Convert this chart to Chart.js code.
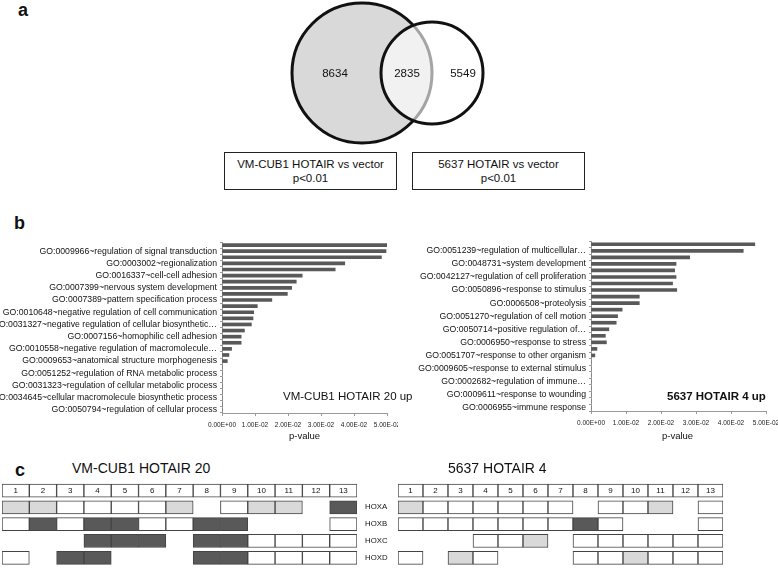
<!DOCTYPE html>
<html>
<head>
<meta charset="utf-8">
<script src="https://cdn.jsdelivr.net/npm/chart.js@4.4.1/dist/chart.umd.min.js"></script>
<style>
  body { margin: 0; background: #fff; font-family: "Liberation Sans", Arial, sans-serif; color: #111; }
  #page { position: relative; width: 778px; height: 568px; overflow: hidden; }
  canvas, .txt, .box { position: absolute; }
  .panel { font-weight: bold; font-size: 18px; }
  .box { box-sizing: border-box; border: 1.5px solid #222; width: 173px; height: 38px; top: 152px;
         font-size: 11.5px; line-height: 14px; text-align: center; padding-top: 4px; }
</style>
</head>
<body>
<div id="page">
  <div class="txt panel" style="left:18px; top:0px;">a</div>
  <div class="txt panel" style="left:14px; top:213px;">b</div>
  <div class="txt panel" style="left:15px; top:460px;">c</div>

  <canvas id="venn" width="220" height="150" style="left:280px; top:0px;"></canvas>
  <div class="box" style="left:224px;">VM-CUB1 HOTAIR vs vector<br>p&lt;0.01</div>
  <div class="box" style="left:412px;">5637 HOTAIR vs vector<br>p&lt;0.01</div>

  <canvas id="goLeft" width="398" height="212" style="left:0px; top:236px;"></canvas>
  <canvas id="goRight" width="383" height="212" style="left:395px; top:236px;"></canvas>
  <div class="txt" style="left:283px; top:390px; font-size:11.5px;">VM-CUB1 HOTAIR 20 up</div>
  <div class="txt" style="left:667px; top:390px; font-size:11.5px; font-weight:bold;">5637 HOTAIR 4 up</div>
  <div class="txt" style="left:289px; top:430px; font-size:9.5px;">p-value</div>
  <div class="txt" style="left:662px; top:430px; font-size:9.5px;">p-value</div>

  <div class="txt" style="left:72px; top:460px; font-size:14px;">VM-CUB1 HOTAIR 20</div>
  <div class="txt" style="left:448px; top:460px; font-size:14px;">5637 HOTAIR 4</div>
  <canvas id="hoxLeft" width="392" height="88" style="left:0px; top:480px;"></canvas>
  <canvas id="hoxRight" width="383" height="88" style="left:395px; top:480px;"></canvas>
</div>

<script>
// panel a: gene counts
const vennCounts = ["8634", "2835", "5549"];

// panel b: GO terms (every second bar is labelled) and p-values
const vmTerms = [
  "GO:0009966~regulation of signal transduction",
  "GO:0003002~regionalization",
  "GO:0016337~cell-cell adhesion",
  "GO:0007399~nervous system development",
  "GO:0007389~pattern specification process",
  "GO:0010648~negative regulation of cell communication",
  "GO:0031327~negative regulation of cellular biosynthetic…",
  "GO:0007156~homophilic cell adhesion",
  "GO:0010558~negative regulation of macromolecule…",
  "GO:0009653~anatomical structure morphogenesis",
  "GO:0051252~regulation of RNA metabolic process",
  "GO:0031323~regulation of cellular metabolic process",
  "GO:0034645~cellular macromolecule biosynthetic process",
  "GO:0050794~regulation of cellular process",
];
const vmPValues = [0.0500, 0.0497, 0.0483, 0.0372, 0.0343, 0.0243, 0.0225, 0.0211, 0.0198, 0.0151,
  0.0107, 0.0096, 0.0094, 0.0089, 0.0068, 0.0058, 0.0058, 0.0029, 0.0021, 0.0016,
  0, 0, 0, 0, 0, 0, 0, 0];

const hsTerms = [
  "GO:0051239~regulation of multicellular…",
  "GO:0048731~system development",
  "GO:0042127~regulation of cell proliferation",
  "GO:0050896~response to stimulus",
  "GO:0006508~proteolysis",
  "GO:0051270~regulation of cell motion",
  "GO:0050714~positive regulation of…",
  "GO:0006950~response to stress",
  "GO:0051707~response to other organism",
  "GO:0009605~response to external stimulus",
  "GO:0002682~regulation of immune…",
  "GO:0009611~response to wounding",
  "GO:0006955~immune response",
];
const hsPValues = [0.0468, 0.0435, 0.0282, 0.0243, 0.0239, 0.0243, 0.0233, 0.0245, 0.0138, 0.0138,
  0.0089, 0.0076, 0.0072, 0.0051, 0.0041, 0.0044, 0.0017, 0.0011,
  0, 0, 0, 0, 0, 0, 0, 0];

const pTicks = [0, 0.01, 0.02, 0.03, 0.04, 0.05];

// panel c: HOX clusters, L = light (up), D = dark (strong up), W = expressed, - = no gene
const hoxColumns = ["1", "2", "3", "4", "5", "6", "7", "8", "9", "10", "11", "12", "13"];
const hoxRows = ["HOXA", "HOXB", "HOXC", "HOXD"];
const vmCells = ["LLWWWWL-WLL-D", "WDWDDWWDD---W", "---DDD-DDWWWW", "W-DD---DDWWWW"];
const hsCells = ["LWWWWWW-WWL-W", "WWWWWWWDW---W", "---WWL-WWWWWW", "W-LW---WWLWWW"];

const cellColors = { W: "#ffffff", L: "#d9d9d9", D: "#595959" };
const FONT = "'Liberation Sans', Arial, sans-serif";
Chart.defaults.font.family = FONT;
Chart.defaults.animation = false;

function sci(v) {
  const [m, e] = Number(v).toExponential(2).split("e");
  const n = Math.abs(parseInt(e, 10));
  return `${m}E${e[0] === "-" ? "-" : "+"}${String(n).padStart(2, "0")}`;
}

// ---- Venn
const vennText = {
  id: "vennText",
  afterDatasetsDraw(chart) {
    const { ctx, scales: { x, y } } = chart;
    const xs = [55, 127, 183];
    ctx.save();
    ctx.font = `11.5px ${FONT}`;
    ctx.fillStyle = "#111";
    ctx.textAlign = "center";
    ctx.textBaseline = "middle";
    vennCounts.forEach((c, i) => ctx.fillText(c, x.getPixelForValue(xs[i]), y.getPixelForValue(74)));
    ctx.restore();
  },
};

new Chart(document.getElementById("venn"), {
  type: "bubble",
  data: {
    datasets: [
      { data: [{ x: 152, y: 73, r: 51 }], backgroundColor: "rgba(255,255,255,0.62)", borderColor: "#111", borderWidth: 3, clip: false },
      { data: [{ x: 82, y: 73, r: 70 }], backgroundColor: "#d9d9d9", borderColor: "#111", borderWidth: 3, clip: false },
    ],
  },
  options: {
    responsive: false,
    layout: { padding: 0, autoPadding: false },
    plugins: { legend: { display: false }, tooltip: { enabled: false } },
    scales: {
      x: { display: false, min: 0, max: 220 },
      y: { display: false, min: 0, max: 150, reverse: true },
    },
  },
  plugins: [vennText],
});

// ---- GO bar charts
function goChart(id, values, terms, o) {
  const cats = values.map((_, i) => (i % 2 === 1 ? terms[(i - 1) / 2] : ""));
  return new Chart(document.getElementById(id), {
    type: "bar",
    data: { labels: cats, datasets: [{ data: values, backgroundColor: "#595959", barThickness: 3 }] },
    options: {
      indexAxis: "y",
      responsive: false,
      layout: { padding: { top: o.top, right: o.right, left: 0, bottom: 0 } },
      plugins: { legend: { display: false }, tooltip: { enabled: false } },
      scales: {
        x: {
          min: 0, max: 0.05,
          afterBuildTicks: (s) => { s.ticks = pTicks.map((value) => ({ value })); },
          ticks: { font: { size: 6.5 }, color: "#222", maxRotation: 0, padding: 5, callback: (v) => sci(v) },
          grid: { drawOnChartArea: false, tickLength: 3, color: "#999" },
          border: { color: "#999" },
          afterFit: (s) => { s.height = o.xh; s.paddingLeft = 0; s.paddingRight = 0; },
        },
        y: {
          ticks: { autoSkip: false, font: { size: 8.7 }, color: "#111", padding: 3 },
          grid: { drawOnChartArea: false, tickLength: 2, color: "#999" },
          border: { color: "#999" },
          afterFit: (s) => { s.width = o.yw; s.paddingTop = 0; s.paddingBottom = 0; },
        },
      },
    },
  });
}

goChart("goLeft", vmPValues, vmTerms, { top: 6, right: 11, xh: 35, yw: 222 });
goChart("goRight", hsPValues, hsTerms, { top: 5, right: 12, xh: 37, yw: 196 });

// ---- HOX grids
const colNumbers = {
  id: "colNumbers",
  afterDatasetsDraw(chart) {
    const { ctx } = chart;
    const meta = chart.getDatasetMeta(0);
    ctx.save();
    ctx.font = `8px ${FONT}`;
    ctx.fillStyle = "#111";
    ctx.textAlign = "center";
    ctx.textBaseline = "middle";
    meta.data.forEach((bar, i) => ctx.fillText(hoxColumns[i], bar.x, (bar.y + bar.base) / 2));
    ctx.restore();
  },
};

function hoxChart(id, cells, showRows, pad) {
  const rows = ["WWWWWWWWWWWWW", ...cells];
  const datasets = rows.map((row, r) => ({
    data: row.split("").map((c) => (c === "-" ? null : [r + 0.12, r + 0.9])),
    backgroundColor: row.split("").map((c) => cellColors[c] || "#fff"),
    borderColor: "#444",
    borderWidth: 1,
    borderSkipped: false,
    categoryPercentage: 1,
    barPercentage: 1,
    grouped: false,
  }));
  return new Chart(document.getElementById(id), {
    type: "bar",
    data: { labels: hoxColumns, datasets },
    options: {
      responsive: false,
      layout: { padding: pad },
      plugins: { legend: { display: false }, tooltip: { enabled: false } },
      scales: {
        x: { display: false },
        y: {
          display: showRows,
          position: "right",
          min: 0, max: 5, reverse: true,
          afterBuildTicks: (s) => { s.ticks = hoxRows.map((_, i) => ({ value: i + 1.5 })); },
          ticks: { font: { size: 7.8 }, color: "#111", padding: 0, callback: (v, i) => hoxRows[i] },
          grid: { display: false },
          border: { display: false },
          afterFit: (s) => { s.width = 35; s.paddingTop = 0; s.paddingBottom = 0; },
        },
      },
    },
    plugins: [colNumbers],
  });
}

hoxChart("hoxLeft", vmCells, true, { left: 2, top: 2, bottom: 2, right: 0 });
hoxChart("hoxRight", hsCells, false, { left: 3, top: 2, bottom: 2, right: 20 });
</script>
</body>
</html>
